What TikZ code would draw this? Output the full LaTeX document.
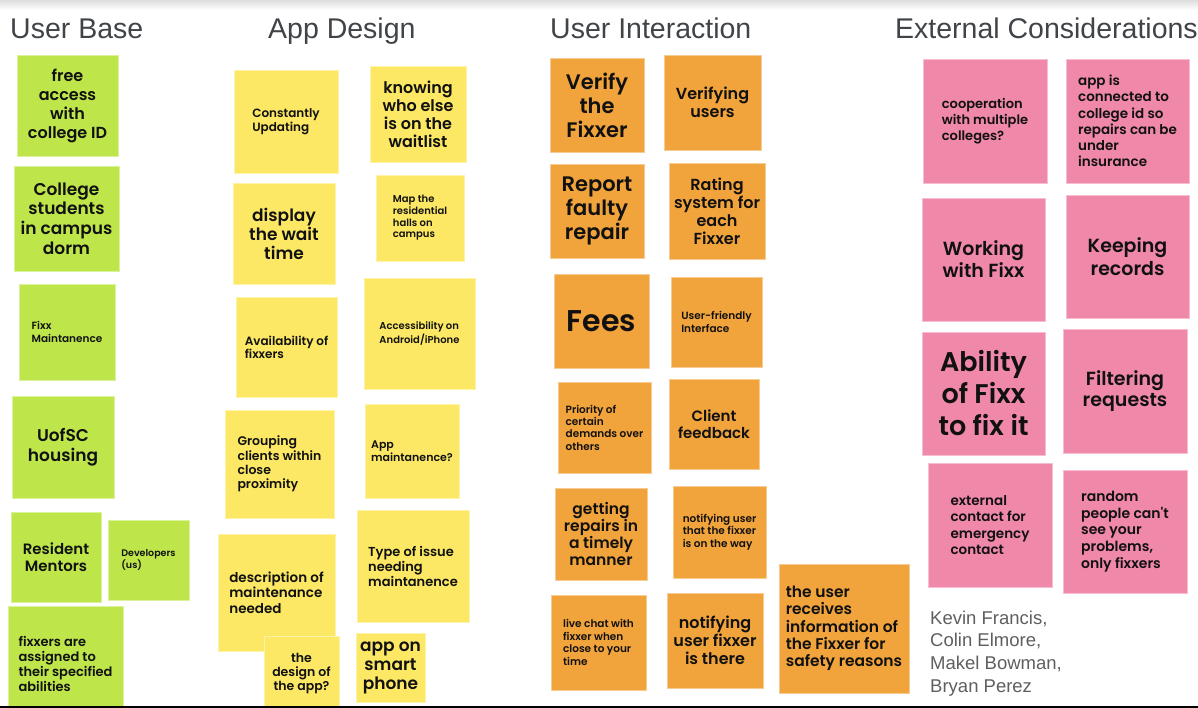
\documentclass[tikz,border=0pt]{standalone}
\usepackage{fontspec}
\setmainfont{Liberation Sans}
\newfontfamily\notefont{Poppins SemiBold}
\newfontfamily\headfont{Liberation Sans}
\newcommand\nfs[2]{\fontsize{#1}{#2}\selectfont}

\definecolor{greennote}{RGB}{190,230,75}
\definecolor{yellownote}{RGB}{252,232,100}
\definecolor{orangenote}{RGB}{241,163,60}
\definecolor{pinknote}{RGB}{240,136,170}
\definecolor{headgray}{RGB}{64,68,72}
\definecolor{namegray}{RGB}{95,95,95}
\definecolor{notetext}{RGB}{17,17,17}
\definecolor{baseline}{RGB}{45,45,45}

\tikzset{
  note/.style={rectangle, inner sep=0pt, line width=0.8pt, text=notetext},
  ubnote/.style={note, fill=greennote, draw=greennote!55!white},
  adnote/.style={note, fill=yellownote, draw=yellownote!55!white},
  uinote/.style={note, fill=orangenote, draw=orangenote!55!white},
  ecnote/.style={note, fill=pinknote, draw=pinknote!55!white},
  sz/.style args={#1x#2}{minimum width=#1pt, minimum height=#2pt},
  ctr/.style={align=center},
  lft/.style={align=left},
  fsz/.style 2 args={font={\notefont\nfs{#1}{#2}}},
  heading/.style={anchor=base west, text=headgray, inner sep=0pt,
    font={\headfont\fontsize{28.5}{34}\selectfont}},
}

\begin{document}
\begin{tikzpicture}[x=1pt, y=-1pt]
\useasboundingbox (0,0) rectangle (1198,708);
\clip (0,0) rectangle (1198,708);
\fill[white] (0,0) rectangle (1198,708);
\shade[top color=black!13, bottom color=white] (0,0) rectangle (1198,10);

% column headings
\node[heading] (h1) at (10,39) {User Base};
\node[heading] (h2) at (268,39) {App Design};
\node[heading] (h3) at (550,39) {User Interaction};
\node[heading] (h4) at (895,39) {External Considerations};

% User Base
\node[ubnote, sz=101x101, ctr, fsz={16}{19}] (ub1) at (67.5,105.5) {free\\access\\with\\college ID};
\node[ubnote, sz=105x105, ctr, fsz={17}{19.7}] (ub2) at (66.5,218.5) {College\\students\\in campus\\dorm};
\node[ubnote, sz=96x96, lft, fsz={10.5}{12.3}] (ub3) at (67,332) {Fixx\\Maintanence};
\node[ubnote, sz=102x102, ctr, fsz={17}{19.7}] (ub4) at (63,447) {UofSC\\housing};
\node[ubnote, sz=90x90, ctr, fsz={15}{16.7}] (ub5) at (56,557) {Resident\\Mentors};
\node[ubnote, sz=81x80, lft, fsz={9.5}{11}] (ub6) at (148.5,560) {Developers\\(us)};
\node[ubnote, sz=115x115, lft, fsz={13}{15}] (ub7) at (65.5,663.5) {fixxers are\\assigned to\\their specified\\abilities};

% App Design
\node[adnote, sz=104x103, lft, fsz={12}{14.3}] (ad1) at (286,121.5) {Constantly\\Updating};
\node[adnote, sz=96x96, ctr, fsz={16}{18}] (ad2) at (418,114) {knowing\\who else\\is on the\\waitlist};
\node[adnote, sz=102x101, ctr, fsz={17}{19}] (ad3) at (284,233.5) {display\\the wait\\time};
\node[adnote, sz=88x86, lft, fsz={10}{11.7}] (ad4) at (420,218) {Map the\\residential\\halls on\\campus};
\node[adnote, sz=101x100, lft, fsz={12}{13.3}] (ad5) at (286.5,347) {Availability of\\fixxers};
\node[adnote, sz=111x111, lft, fsz={10}{10.5}] (ad6) at (419.5,333.5) {Accessibility on\\Android/iPhone};
\node[adnote, sz=109x108, lft, fsz={12.5}{14.3}] (ad7) at (279.5,464) {Grouping\\clients within\\close\\proximity};
\node[adnote, sz=94x94, lft, fsz={11}{12.7}] (ad8) at (412,451) {App\\maintanence?};
\node[adnote, sz=117x117, lft, fsz={13.5}{15.7}] (ad9) at (276.5,592.5) {description of\\maintenance\\needed};
\node[adnote, sz=112x112, lft, fsz={13}{15}] (ad10) at (413,566) {Type of issue\\needing\\maintanence};
\node[adnote, sz=75x75, ctr, fsz={12.5}{14}] (ad11) at (301.5,673.5) {the\\design of\\the app?};
\node[adnote, sz=69x69, ctr, fsz={17}{19}] (ad12) at (390.5,667.5) {app on\\smart\\phone};

% User Interaction
\node[uinote, sz=94x94, ctr, fsz={21}{24}] (ui1) at (597,105) {Verify\\the\\Fixxer};
\node[uinote, sz=97x95, ctr, fsz={16}{18}] (ui2) at (712.5,102.5) {Verifying\\users};
\node[uinote, sz=94x94, ctr, fsz={21}{24}] (ui3) at (597,211) {Report\\faulty\\repair};
\node[uinote, sz=96x96, ctr, fsz={16}{18}] (ui4) at (717,211) {Rating\\system for\\each\\Fixxer};
\node[uinote, sz=95x94, ctr, fsz={30}{36}] (ui5) at (601.5,321) {Fees};
\node[uinote, sz=91x90, lft, fsz={10.5}{12.7}] (ui6) at (716.5,322) {User-friendly\\Interface};
\node[uinote, sz=93x91, lft, fsz={10.5}{12.3}] (ui7) at (604.5,427.5) {Priority of\\certain\\demands over\\others};
\node[uinote, sz=90x90, ctr, fsz={15}{16.7}] (ui8) at (714,424) {Client\\feedback};
\node[uinote, sz=92x92, ctr, fsz={15.5}{17.3}] (ui9) at (601,534) {getting\\repairs in\\a timely\\manner};
\node[uinote, sz=93x92, lft, fsz={10.5}{12.3}] (ui10) at (719.5,532) {notifying user\\that the fixxer\\is on the way};
\node[uinote, sz=95x95, lft, fsz={10.5}{12.7}] (ui11) at (598.5,642.5) {live chat with\\fixxer when\\close to your\\time};
\node[uinote, sz=96x95, ctr, fsz={16}{18}] (ui12) at (715,640.5) {notifying\\user fixxer\\is there};
\node[uinote, sz=130x129, lft, fsz={15.5}{17.3}] (ui13) at (844,628.5) {the user\\receives\\information of\\the Fixxer for\\safety reasons};

% External Considerations
\node[ecnote, sz=124x124, lft, fsz={13}{16}] (ec1) at (985,121) {cooperation\\with multiple\\colleges?};
\node[ecnote, sz=123x124, lft, fsz={13.5}{16.3}] (ec2) at (1127.5,121) {app is\\connected to\\college id so\\repairs can be\\under\\insurance};
\node[ecnote, sz=123x123, ctr, fsz={19}{22}] (ec3) at (983.5,259.5) {Working\\with Fixx};
\node[ecnote, sz=123x123, ctr, fsz={19}{22.3}] (ec4) at (1127.5,256.5) {Keeping\\records};
\node[ecnote, sz=123x123, ctr, fsz={27}{32}] (ec5) at (983.5,393.5) {Ability\\of Fixx\\to fix it};
\node[ecnote, sz=124x124, ctr, fsz={19}{21}] (ec6) at (1125,391) {Filtering\\requests};
\node[ecnote, sz=124x124, lft, fsz={13.5}{16.3}] (ec7) at (990,525) {external\\contact for\\emergency\\contact};
\node[ecnote, sz=124x123, lft, fsz={14}{16.7}] (ec8) at (1125,531.5) {random\\people can't\\see your\\problems,\\only fixxers};

% team members
\node[anchor=north west, align=left, inner sep=0pt, text=namegray,
  font={\headfont\fontsize{18.5}{22.7}\selectfont}] (team) at (930,610.5)
  {Kevin Francis,\\Colin Elmore,\\Makel Bowman,\\Bryan Perez};

% lower edge of the board
\draw[line width=2pt, baseline] (0,707) -- (1198,707);
\end{tikzpicture}
\end{document}
